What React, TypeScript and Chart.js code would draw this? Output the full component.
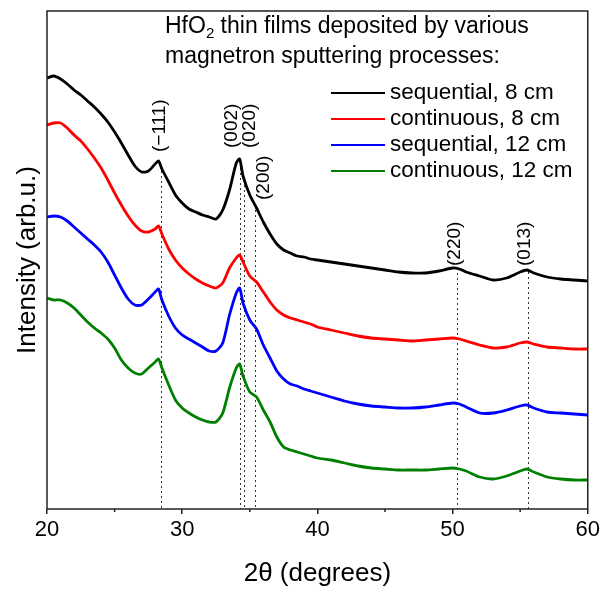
import { useEffect, useRef } from "react";
import { Chart, registerables } from "chart.js";

Chart.register(...registerables);

// 2θ positions (degrees)
const twoTheta = [
  20, 20.5, 21, 21.5, 22, 22.5, 23, 23.5, 24, 24.5, 25, 25.5, 26, 26.5, 27, 27.5, 28,
  28.25,
  28.5, 29, 29.5, 30, 30.5, 31, 31.5, 32, 32.5, 33, 33.5, 34,
  34.25,
  34.5, 35, 35.5, 36, 36.5, 37, 37.5, 38, 38.5, 39, 39.5, 40,
  41, 42, 43, 44, 45, 46, 47, 48, 49, 50,
  50.5,
  51, 52, 53, 54, 55,
  55.5,
  56, 57, 58, 59, 60,
];

// Intensities (arb. u., stacked as drawn)
const sequential8 = [
  431, 433, 430, 425, 419, 414, 408, 402, 395, 387, 377, 366, 354, 343, 337, 338, 345,
  348,
  340, 327, 314, 306, 300, 297, 294, 292, 290, 299, 319, 346,
  350,
  333, 314, 301, 287, 275, 265, 259, 256, 253, 252, 250, 249,
  247, 245, 243, 241, 239, 237, 236, 236, 238, 241,
  240,
  237, 233, 229, 231, 237,
  239,
  236, 232, 230, 229, 228,
];
const continuous8 = [
  384, 386, 386, 381, 374, 368, 360, 351, 341, 329, 316, 304, 293, 284, 278, 277, 280,
  283,
  275, 260, 249, 241, 235, 230, 226, 223, 221, 226, 241, 251,
  254,
  247, 233, 227, 217, 207, 199, 194, 191, 189, 187, 185, 182,
  179, 176, 173, 171, 170, 169, 168, 169, 170, 171,
  170,
  168, 164, 161, 162, 166,
  167,
  165, 162, 161, 160, 160,
];
const sequential12 = [
  292, 293, 292, 288, 282, 276, 270, 264, 257, 247, 234, 221, 210, 204, 204, 210, 217,
  220,
  209, 193, 181, 174, 170, 166, 162, 158, 158, 166, 194, 216,
  221,
  206, 189, 180, 164, 151, 138, 130, 125, 123, 120, 118, 116,
  112, 108, 105, 103, 102, 101, 101, 102, 104, 106,
  105,
  102, 96, 96, 99, 103,
  104,
  101, 97, 96, 95, 94,
];
const continuous12 = [
  211, 209, 209, 206, 201, 194, 187, 181, 176, 170, 161, 149, 141, 136, 135, 141, 147,
  150,
  141, 124, 109, 101, 96, 92, 89, 87, 87, 96, 121, 141,
  145,
  133, 117, 112, 99, 87, 72, 62, 59, 57, 55, 53, 51,
  49, 46, 43, 41, 40, 39, 39, 39, 40, 41,
  40,
  38, 32, 30, 33, 38,
  40,
  37, 32, 30, 29, 29,
];

const seriesNames = ["sequential, 8 cm", "continuous, 8 cm", "sequential, 12 cm", "continuous, 12 cm"];
const seriesColors = ["#000000", "#ff0000", "#0000ff", "#008000"];
const seriesValues = [sequential8, continuous8, sequential12, continuous12];

const xMajorTicks = [20, 30, 40, 50, 60];
const xMinorTicks = [25, 35, 45, 55];

// reflections
const peakLabels = ["(\u2212111)", "(002)", "(020)", "(200)", "(220)", "(013)"];
const peakPositions = [28.4, 34.24, 34.6, 35.37, 50.35, 55.55];
const peakLineTops = [343, 346, 329, 304, 236, 237];
const peakLabelX = [28.35, 33.67, 35.0, 36.04, 50.15, 55.33];
const peakLabelY = [357, 361, 361, 309, 243, 243];

const legendTitle1 = ["HfO", "2", " thin films deposited by various"];
const legendTitle2 = "magnetron sputtering processes:";

const FONT = "'Liberation Sans', Arial, Helvetica, sans-serif";

const decorPlugin = {
  id: "decor",
  beforeDatasetsDraw(chart: any) {
    const { ctx, scales } = chart;
    const x = scales.x;
    const y = scales.y;
    ctx.save();
    ctx.strokeStyle = "#333333";
    ctx.lineWidth = 1;
    ctx.setLineDash([2, 3]);
    peakPositions.forEach((p, i) => {
      const px = Math.round(x.getPixelForValue(p)) + 0.5;
      ctx.beginPath();
      ctx.moveTo(px, y.getPixelForValue(peakLineTops[i]));
      ctx.lineTo(px, y.getPixelForValue(0));
      ctx.stroke();
    });
    ctx.restore();
  },
  afterDraw(chart: any) {
    const { ctx, chartArea, scales } = chart;
    const x = scales.x;
    const y = scales.y;
    ctx.save();
    // frame
    ctx.strokeStyle = "#222222";
    ctx.lineWidth = 1.5;
    ctx.setLineDash([]);
    ctx.strokeRect(chartArea.left, chartArea.top, chartArea.right - chartArea.left, chartArea.bottom - chartArea.top);
    // minor ticks
    xMinorTicks.forEach((v) => {
      const px = x.getPixelForValue(v);
      ctx.beginPath();
      ctx.moveTo(px, chartArea.bottom);
      ctx.lineTo(px, chartArea.bottom + 3);
      ctx.stroke();
    });
    // peak labels
    ctx.fillStyle = "#000";
    ctx.font = `19px ${FONT}`;
    ctx.textAlign = "left";
    ctx.textBaseline = "middle";
    peakLabels.forEach((t, i) => {
      ctx.save();
      ctx.translate(x.getPixelForValue(peakLabelX[i]), y.getPixelForValue(peakLabelY[i]));
      ctx.rotate(-Math.PI / 2);
      ctx.fillText(t, 0, 0);
      ctx.restore();
    });
    // legend
    const tx = 165;
    ctx.font = `23px ${FONT}`;
    ctx.fillText(legendTitle1[0], tx, 27);
    let w = ctx.measureText(legendTitle1[0]).width;
    ctx.font = `15px ${FONT}`;
    ctx.fillText(legendTitle1[1], tx + w, 34);
    w += ctx.measureText(legendTitle1[1]).width;
    ctx.font = `23px ${FONT}`;
    ctx.fillText(legendTitle1[2], tx + w, 27);
    ctx.fillText(legendTitle2, tx, 57);
    ctx.font = `22.5px ${FONT}`;
    seriesNames.forEach((name, i) => {
      const cy = 93 + i * 26;
      ctx.strokeStyle = seriesColors[i];
      ctx.lineWidth = 2;
      ctx.beginPath();
      ctx.moveTo(331, cy);
      ctx.lineTo(385, cy);
      ctx.stroke();
      ctx.fillText(name, 390, cy);
    });
    ctx.restore();
  },
};

export default function App() {
  const ref = useRef<HTMLCanvasElement | null>(null);
  useEffect(() => {
    if (!ref.current) return;
    const chart = new Chart(ref.current, {
      type: "line",
      data: {
        datasets: seriesValues.map((vals, i) => ({
          label: seriesNames[i],
          data: twoTheta.map((t, j) => ({ x: t, y: vals[j] })),
          borderColor: seriesColors[i],
          backgroundColor: seriesColors[i],
          borderWidth: 2.8,
          pointRadius: 0,
          tension: 0.25,
          fill: false,
        })),
      },
      options: {
        responsive: false,
        animation: false,
        devicePixelRatio: 1,
        layout: { padding: { top: 11, right: 15, left: 0, bottom: 0 } },
        plugins: { legend: { display: false }, tooltip: { enabled: false } },
        scales: {
          x: {
            type: "linear",
            min: 20,
            max: 60,
            afterBuildTicks: (s: any) => {
              s.ticks = xMajorTicks.map((v) => ({ value: v }));
            },
            afterFit: (s: any) => {
              s.height = 81;
            },
            border: { display: false },
            grid: { display: true, drawOnChartArea: false, drawTicks: true, tickLength: 5, color: "#222", lineWidth: 1.5 },
            ticks: { color: "#000", font: { family: FONT, size: 22 }, padding: 3, maxRotation: 0 },
            title: { display: true, text: "2\u03b8 (degrees)", color: "#000", font: { family: FONT, size: 26, lineHeight: 1.2 }, padding: { top: 0, bottom: 1 } },
          },
          y: {
            type: "linear",
            min: 0,
            max: 498,
            afterFit: (s: any) => {
              s.width = 47;
            },
            border: { display: false },
            grid: { display: false },
            ticks: { display: false },
            title: { display: true, text: "Intensity (arb.u.)", color: "#000", font: { family: FONT, size: 26, lineHeight: 1.2 }, padding: { top: 12, bottom: 0 } },
          },
        },
      },
      plugins: [decorPlugin],
    });
    return () => chart.destroy();
  }, []);
  return (
    <div style={{ position: "fixed", left: 0, top: 0, width: 603, height: 590, background: "#fff" }}>
      <canvas ref={ref} width={603} height={590} />
    </div>
  );
}
